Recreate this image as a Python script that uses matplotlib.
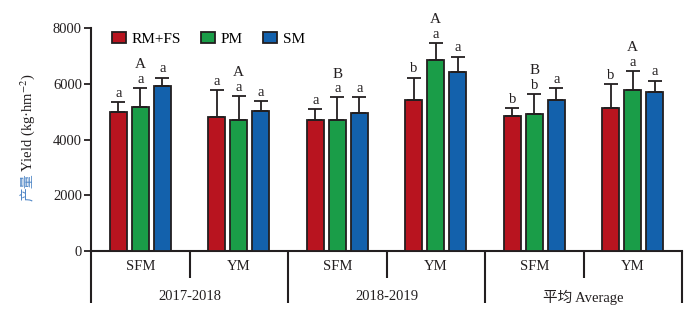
import matplotlib
matplotlib.use("Agg")
import matplotlib.pyplot as plt
from matplotlib.patches import Patch
import numpy as np

plt.rcParams['font.family'] = ['Liberation Serif', 'Noto Sans CJK SC', 'DejaVu Sans']
plt.rcParams['mathtext.fontset'] = 'stix'

series = ['RM+FS', 'PM', 'SM']
sub_labels = ['SFM', 'YM', 'SFM', 'YM', 'SFM', 'YM']
year_labels = ['2017-2018', '2018-2019', '平均 Average']

rmfs = [5000, 4810, 4690, 5420, 4840, 5120]
pm = [5160, 4690, 4690, 6850, 4930, 5770]
sm = [5920, 5030, 4960, 6420, 5410, 5720]
rmfs_err = [350, 960, 400, 800, 280, 870]
pm_err = [680, 870, 820, 620, 710, 690]
sm_err = [300, 340, 550, 550, 430, 390]

low_letters = [['a', 'a', 'a'], ['a', 'a', 'a'], ['a', 'a', 'a'],
               ['b', 'a', 'a'], ['b', 'b', 'a'], ['b', 'a', 'a']]
up_letters = ['A', 'A', 'B', 'A', 'B', 'A']

colors = ['#b8141f', '#1a9d48', '#1361ac']
edge = '#231f20'

fig = plt.figure(figsize=(7, 3.25), dpi=100)
ax = fig.add_axes([91/700, 1-251/325, (682-91)/700, 223/325])

x = np.arange(len(sub_labels))
off = 0.223
w = 0.175
vals = [rmfs, pm, sm]
errs = [rmfs_err, pm_err, sm_err]
for k in range(3):
    xs = x + (k-1)*off
    ax.bar(xs, vals[k], width=w, color=colors[k], edgecolor=edge, linewidth=1.3, zorder=3)
    ax.errorbar(xs, vals[k], yerr=[np.zeros(len(xs)), errs[k]], fmt='none',
                ecolor=edge, elinewidth=1.3, capsize=5, capthick=1.3, zorder=4)
    for i in range(len(xs)):
        top = vals[k][i] + errs[k][i]
        ax.text(xs[i], top + 80, low_letters[i][k], ha='center', va='bottom', fontsize=10.5, color='#231f20')
        if k == 1:
            ax.text(xs[i], top + 600, up_letters[i], ha='center', va='bottom', fontsize=11, color='#231f20')

ax.set_xlim(-0.5, 5.5)
ax.set_ylim(0, 8000)
ax.set_yticks([0, 2000, 4000, 6000, 8000])
ax.set_xticks([])
ax.tick_params(axis='y', direction='out', length=5, width=1.3, labelsize=10.5, colors='#231f20', pad=1.5)
for s in ['top', 'right']:
    ax.spines[s].set_visible(False)
ax.spines['left'].set_linewidth(1.5)
ax.spines['bottom'].set_linewidth(1.5)
ax.spines['left'].set_color(edge)
ax.spines['bottom'].set_color(edge)
ax.spines['left'].set_bounds(0, 8000)

tr = ax.get_xaxis_transform()
y_short = -27/223
y_long = -52/223
for xv in [-0.5, 1.5, 3.5, 5.5]:
    ax.plot([xv, xv], [0, y_long], transform=tr, color=edge, lw=1.5, clip_on=False, solid_capstyle='butt')
for xv in [0.5, 2.5, 4.5]:
    ax.plot([xv, xv], [0, y_short], transform=tr, color=edge, lw=1.5, clip_on=False, solid_capstyle='butt')

for i, lab in enumerate(sub_labels):
    ax.text(x[i], -16/223, lab, transform=tr, ha='center', va='center', fontsize=10.5, color='#231f20')
for j, lab in enumerate(year_labels):
    ax.text(2*j + 0.5, -46/223, lab, transform=tr, ha='center', va='center', fontsize=10.5, color='#231f20')

handles = [Patch(facecolor=colors[k], edgecolor=edge, linewidth=1.3, label=series[k]) for k in range(3)]
ax.legend(handles=handles, ncol=3, frameon=False, loc='upper left', bbox_to_anchor=(0.012, 1.045),
          fontsize=11, handlelength=0.95, handleheight=0.75, handletextpad=0.35, columnspacing=1.3)

ylab_y = 1 - 172/325
fig.text(28/700, ylab_y, 'Yield (kg·hm$^{-2}$)', rotation=90, ha='center', va='bottom',
         fontsize=10.5, color='#231f20')
fig.text(28/700, ylab_y - 0.004, '产量', rotation=90, ha='center', va='top', fontsize=10,
         color='#4f86c6', family=['Noto Sans CJK SC', 'DejaVu Sans'])

fig.savefig('out.png', dpi=100)
